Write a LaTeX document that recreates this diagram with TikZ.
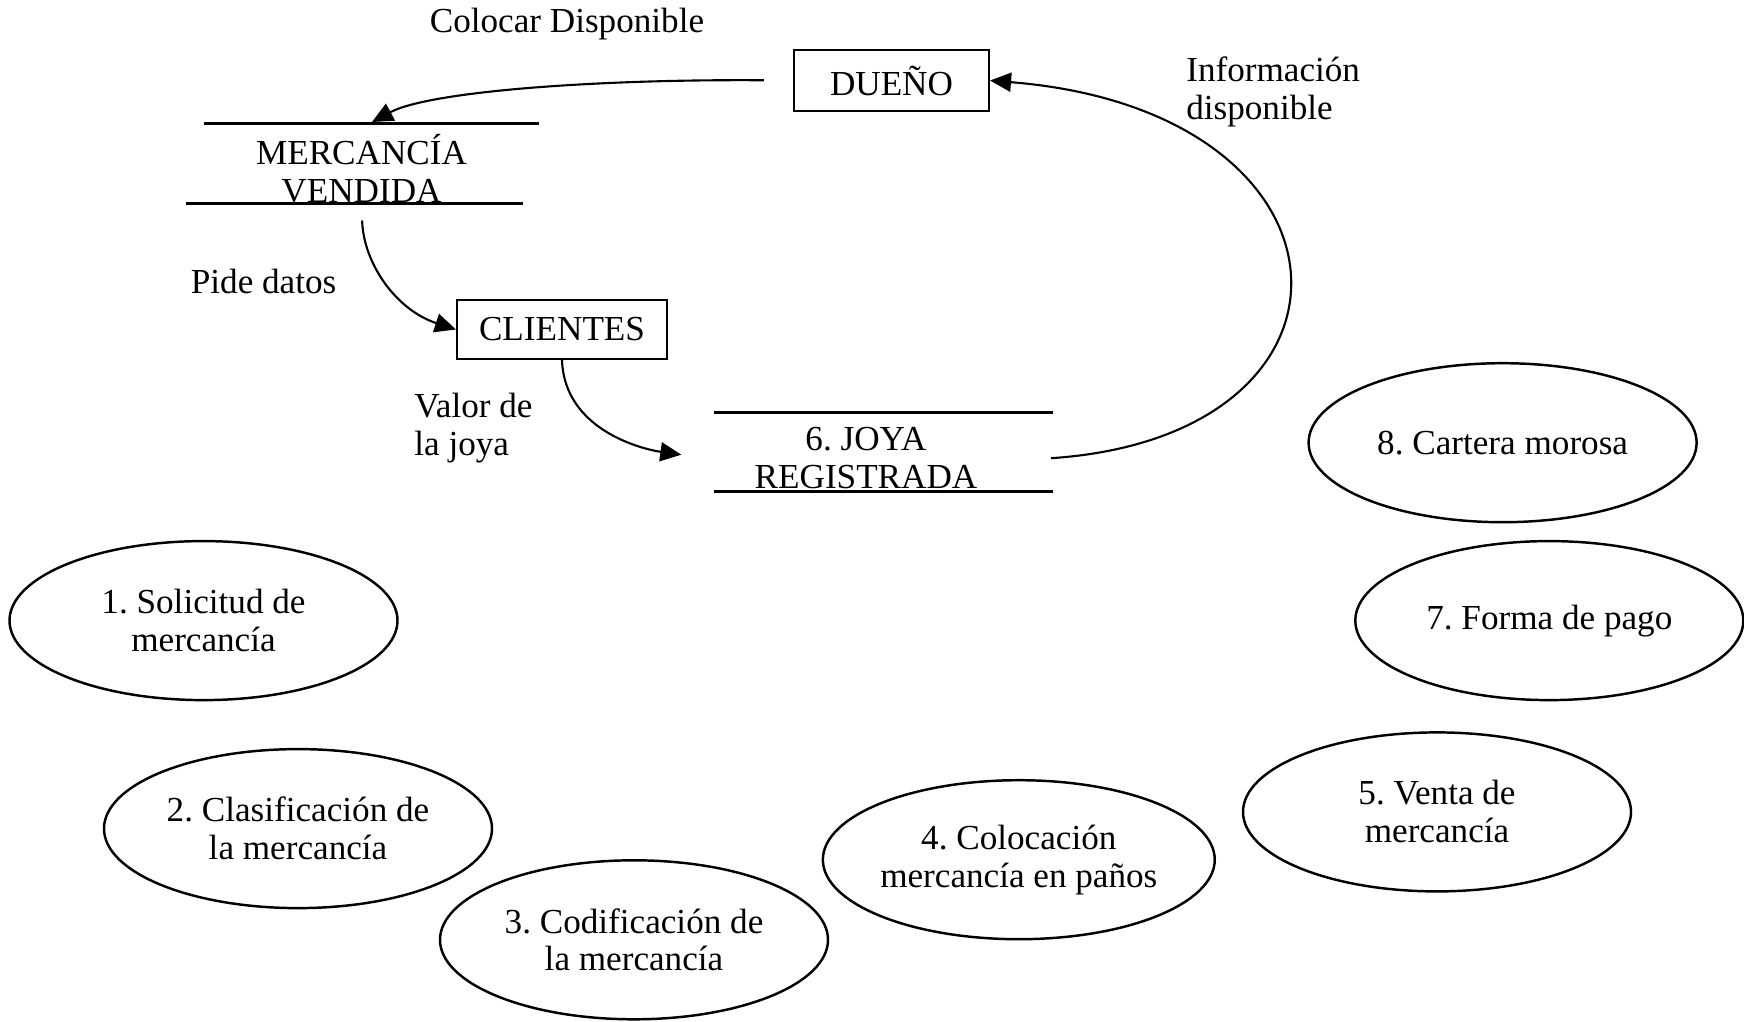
\documentclass[tikz,border=0pt]{standalone}
\usepackage{fontspec}
\setmainfont{Liberation Serif}
\frenchspacing
\usetikzlibrary{arrows.meta,calc,shapes.geometric}
\tikzset{
	texto/.style={font=\fontsize{10pt}{10.8pt}\selectfont, inner sep=0pt},
	entidad/.style={texto, draw, line width=0.6pt},
	proceso/.style={texto, draw, ellipse, line width=0.7pt, minimum width=3.88cm, minimum height=1.59cm, align=center},
	almacen/.style={line width=0.8pt},
	flujo/.style={line width=0.6pt, -{Triangle[length=2.1mm,width=1.9mm]}}
}

\begin{document}
\begin{tikzpicture}
		%%%%% START %%%%%
		\useasboundingbox (0, 0) rectangle (17.44, 10.21);
		
		\node[texto] (colocar) at (5.67, 9.965) {Colocar Disponible};
		\node[entidad, minimum width=1.95cm, minimum height=0.61cm] (duenio) at (8.915, 9.405) {DUEÑO};
		\node[texto, anchor=west, align=left] (info) at (11.856, 9.287) {Información\\disponible};
		
		% mercancia vendida
		\node[texto, align=center] (vendida) at (3.615, 8.52) {MERCANCÍA\\VENDIDA};
		\draw[almacen] (2.04, 8.975) -- (5.39, 8.975);
		\draw[almacen] (1.86, 8.175) -- (5.23, 8.175);
		\coordinate (vendidaTop) at (3.72, 8.99);
		\coordinate (vendidaBot) at (3.615, 8.175);
		
		\node[texto] (pide) at (2.636, 7.397) {Pide datos};
		\node[entidad, minimum width=2.10cm, minimum height=0.59cm] (clientes) at (5.62, 6.915) {CLIENTES};
		\node[texto, anchor=west, align=left] (valor) at (4.137, 5.928) {Valor de\\la joya};
		
		% joya registrada
		\node[texto, align=center] (joya) at (8.66, 5.625) {6. JOYA\\REGISTRADA};
		\draw[almacen] (7.14, 6.084) -- (10.53, 6.084);
		\draw[almacen] (7.14, 5.294) -- (10.53, 5.294);
		\coordinate (joyaL) at (7.14, 5.617);
		\coordinate (joyaR) at (10.51, 5.628);
		
		% flujos
		\draw[flujo, shorten <=2.9mm] (duenio.west) .. controls (6.0, 9.42) and (4.3, 9.30) .. (vendidaTop);
		\draw[flujo, shorten <=1.7mm] (vendidaBot) to[out=-88, in=162] (clientes.west);
		\draw[flujo, shorten >=3.3mm] (clientes.south) to[out=-88, in=172] (joyaL);
		\draw[flujo] (joyaR) .. controls (13.85, 5.85) and (13.7, 9.1) .. (duenio.east);
		
		% procesos
		\node[proceso] (solicitud) at (2.035, 4.004) {1. Solicitud de\\mercancía};
		\node[proceso] (clasificacion) at (2.98, 1.924) {2. Clasificación de\\la mercancía};
		\node[proceso] (codificacion) at (6.34, 0.812) {3. Codificación de\\la mercancía};
		\node[proceso] (colocacion) at (10.188, 1.613) {4. Colocación\\mercancía en paños};
		\node[proceso] (venta) at (14.37, 2.091) {5. Venta de\\mercancía};
		\node[proceso] (pago) at (15.493, 4.004) {7. Forma de pago};
		\node[proceso] (cartera) at (15.026, 5.783) {8. Cartera morosa};
		%%%%% END %%%%%
	\end{tikzpicture}
\end{document}
